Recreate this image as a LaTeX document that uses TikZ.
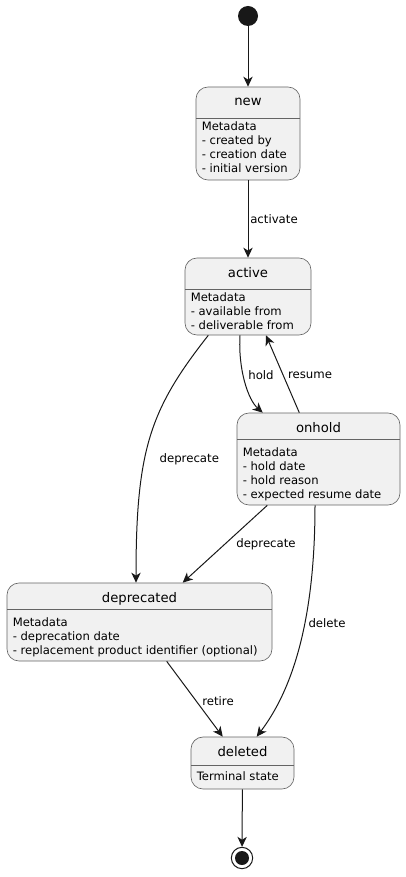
\documentclass[tikz,border=0pt]{standalone}
\usepackage{fontspec}
\setmainfont{DejaVu Sans}
\usepackage{xcolor}
\usepackage{tikz}
\usetikzlibrary{arrows.meta, positioning, calc}
\definecolor{umlFill}{RGB}{241,241,241}
\definecolor{umlLine}{RGB}{24,24,24}
\definecolor{umlEdge}{RGB}{100,100,100}

\begin{document}
\begin{tikzpicture}[
    x=0.75pt, y=-0.75pt,
    statebox/.style={draw=umlEdge, fill=umlFill, line width=0.5pt,
                     rounded corners=9pt, inner sep=0pt},
    boxline/.style={draw=umlEdge, line width=0.5pt},
    titletext/.style={font=\fontsize{9.9}{12}\selectfont, inner sep=0pt},
    bodytext/.style={font=\fontsize{8.7}{10.5}\selectfont, align=left, inner sep=0pt},
    lbl/.style={font=\fontsize{8.8}{10.5}\selectfont, inner sep=0pt},
    trans/.style={draw=umlLine, line width=0.75pt,
                  -{Stealth[length=7.5pt, width=7pt, inset=2.2pt]}},
    initstate/.style={circle, fill=umlLine, minimum size=15pt, inner sep=0pt},
    finalstate/.style={circle, draw=umlLine, line width=0.75pt, fill=white,
                       minimum size=16pt, inner sep=0pt}
]
\useasboundingbox (0,0) rectangle (405,877);

\node[initstate] (start) at (248,16) {};

\foreach \nm/\xl/\yt/\xr/\yb/\ys/\ttl/\bdy in {
  new/196/87/300/180/118/new/{Metadata\\- created by\\- creation date\\- initial version},
  active/185/258/311/335/289.3/active/{Metadata\\- available from\\- deliverable from},
  onhold/237/413/400/505/439.3/onhold/{Metadata\\- hold date\\- hold reason\\- expected resume date},
  deprecated/7/583/272/661/609/deprecated/{Metadata\\- deprecation date\\- replacement product identifier (optional)},
  deleted/191/737/294/789/765/deleted/{Terminal state}}
{
   \pgfmathsetmacro{\cx}{(\xl+\xr)/2}
   \pgfmathsetmacro{\cy}{(\yt+\yb)/2}
   \pgfmathsetmacro{\bw}{(\xr-\xl)*0.75}
   \pgfmathsetmacro{\bh}{(\yb-\yt)*0.75}
   \node[statebox, minimum width=\bw pt, minimum height=\bh pt] (\nm) at (\cx,\cy) {};
   \draw[boxline] (\xl,\ys) -- (\xr,\ys);
   \node[titletext, anchor=base] (\nm-title) at (\cx,\yt+19) {\ttl};
   \node[bodytext, anchor=north west] (\nm-body) at (\xl+5.5,\yt+34.2) {\bdy};
}

\node[finalstate] (end) at (242,858) {};
\fill[umlLine] (end.center) circle (7);

\draw[trans] (start) -- (new);
\draw[trans] (new) -- (active);
\draw[trans] ($(active.south)+(-8,0)$) .. controls +(-2,34) and +(-14.7,-13) .. ($(onhold.north)+(-55.8,0)$);
\draw[trans] ($(onhold.north)+(-19.2,0)$) -- ($(active.south)+(18,0)$);
\draw[trans] ($(active.south)+(-39.7,0)$) .. controls +(-58.3,74) and +(0,-133) .. ($(deprecated.north)+(-3.5,0)$);
\draw[trans] ($(onhold.south)+(-51.2,0)$) -- ($(deprecated.north)+(43.2,0)$);
\draw[trans] ($(onhold.south)+(-3.5,0)$) .. controls +(0,94) and +(43.3,-57) .. ($(deleted.north)+(14.2,0)$);
\draw[trans] ($(deprecated.south)+(27.2,0)$) -- ($(deleted.north)+(-19.8,0)$);
\draw[trans] (deleted) -- (end);

\node[lbl, anchor=west] (l-activate) at (250,219) {activate};
\node[lbl] (l-hold) at (261,375) {hold};
\node[lbl] (l-resume) at (310,375) {resume};
\node[lbl] (l-deprecate1) at (189.3,459.3) {deprecate};
\node[lbl] (l-deprecate2) at (266,544.3) {deprecate};
\node[lbl] (l-delete) at (327,622.7) {delete};
\node[lbl] (l-retire) at (218,701) {retire};
\end{tikzpicture}
\end{document}
